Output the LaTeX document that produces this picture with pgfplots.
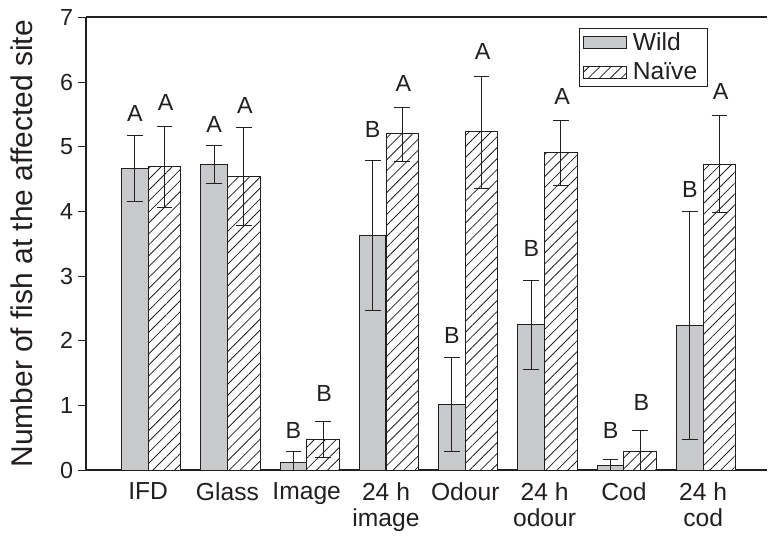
\documentclass[border=0pt]{standalone}
\usepackage{fontspec}
\setmainfont{Liberation Sans}
\usepackage{pgfplots}
\usepackage{pgfplotstable}
\pgfplotsset{compat=1.18}
\usetikzlibrary{patterns.meta}
\definecolor{wildgray}{RGB}{200,201,203}
\definecolor{ink}{RGB}{35,31,32}

\pgfplotstableread{
x y ep em
-0.168 4.66 0.51 0.51
0.832 4.73 0.29 0.29
1.832 0.12 0.17 0.12
2.832 3.63 1.16 1.16
3.832 1.02 0.72 0.73
4.832 2.25 0.69 0.70
5.832 0.07 0.09 0.07
6.832 2.24 1.76 1.76
}\wild
\pgfplotstableread{
x y ep em
0.206 4.69 0.62 0.63
1.206 4.54 0.76 0.75
2.206 0.47 0.28 0.28
3.206 5.20 0.41 0.43
4.206 5.23 0.85 0.87
5.206 4.91 0.49 0.51
6.206 0.29 0.33 0.29
7.206 4.72 0.76 0.74
}\naive

\begin{document}
\begin{tikzpicture}
\begin{axis}[
  width=511.5pt, height=340pt, scale only axis,
  xmin=-0.785, xmax=7.805, ymin=0, ymax=7,
  axis x line*=box, axis y line*=left,
  axis line style={line width=1.5pt, ink},
  xtick={0,...,7},
  xticklabels={IFD,Glass,Image,{24 h\\image},Odour,{24 h\\odour},Cod,{24 h\\cod}},
  xticklabel style={align=center, font=\fontsize{18.5}{19}\selectfont, text=ink},
  x tick style={draw=none},
  ytick={0,...,7},
  yticklabel style={font=\fontsize{17.5}{18}\selectfont, text=ink},
  /pgf/number format/assume math mode=true,
  y tick style={line width=0.9pt, ink},
  tick align=outside, major tick length=6pt,
  ylabel={Number of fish at the affected site},
  every axis y label/.style={at={(axis description cs:-0.0938,0.5)}, rotate=90, anchor=center, font=\fontsize{22.5}{24}\selectfont, text=ink},
  legend style={at={(0.913,0.977)}, anchor=north east, draw=ink, line width=0.75pt,
    font=\fontsize{18.5}{19}\selectfont, text=ink, inner xsep=3pt, inner ysep=1.5pt, row sep=3.5pt,
    nodes={inner xsep=4.5pt}},
  legend cell align=left,
]
\addlegendimage{legend image code/.code={\draw[fill=wildgray, draw=ink, line width=0.75pt] (0pt,-4.5pt) rectangle (32pt,4.5pt);}}
\addlegendimage{legend image code/.code={\draw[pattern={Lines[angle=45,distance=5.8pt,line width=0.6pt]}, pattern color=ink, draw=ink, line width=0.75pt] (0pt,-4.5pt) rectangle (32pt,4.5pt);}}
\legend{Wild,Naïve}

\addplot[forget plot, ybar, bar width=0.335, bar shift=0pt, fill=wildgray, draw=ink, line width=0.75pt,
  error bars/.cd, y dir=both, y explicit,
  error bar style={line width=0.75pt, ink},
  error mark options={rotate=90, mark size=5.9pt, line width=0.75pt, ink}]
  table[x=x, y=y, y error plus=ep, y error minus=em]{\wild};
\addplot[forget plot, ybar, bar width=0.412, bar shift=0pt, fill=white,
  postaction={pattern={Lines[angle=45,distance=5.8pt,line width=0.6pt]}, pattern color=ink},
  draw=ink, line width=0.75pt,
  error bars/.cd, y dir=both, y explicit,
  error bar style={line width=0.75pt, ink},
  error mark options={rotate=90, mark size=5.9pt, line width=0.75pt, ink}]
  table[x=x, y=y, y error plus=ep, y error minus=em]{\naive};

\tikzset{lett/.style={font=\fontsize{17.5}{18}\selectfont, text=ink}}
\node[lett] at (axis cs:-0.168,5.52) {A};
\node[lett] at (axis cs:0.22,5.68) {A};
\node[lett] at (axis cs:0.832,5.35) {A};
\node[lett] at (axis cs:1.22,5.64) {A};
\node[lett] at (axis cs:1.832,0.62) {B};
\node[lett] at (axis cs:2.22,1.19) {B};
\node[lett] at (axis cs:2.832,5.27) {B};
\node[lett] at (axis cs:3.22,5.98) {A};
\node[lett] at (axis cs:3.832,2.09) {B};
\node[lett] at (axis cs:4.22,6.48) {A};
\node[lett] at (axis cs:4.832,3.43) {B};
\node[lett] at (axis cs:5.22,5.78) {A};
\node[lett] at (axis cs:5.832,0.61) {B};
\node[lett] at (axis cs:6.22,1.05) {B};
\node[lett] at (axis cs:6.832,4.34) {B};
\node[lett] at (axis cs:7.22,5.86) {A};
\end{axis}
\path ([shift={(-64.5pt,-45pt)}]current axis.south west) rectangle ([shift={(0pt,13.1pt)}]current axis.north east);
\end{tikzpicture}
\end{document}
